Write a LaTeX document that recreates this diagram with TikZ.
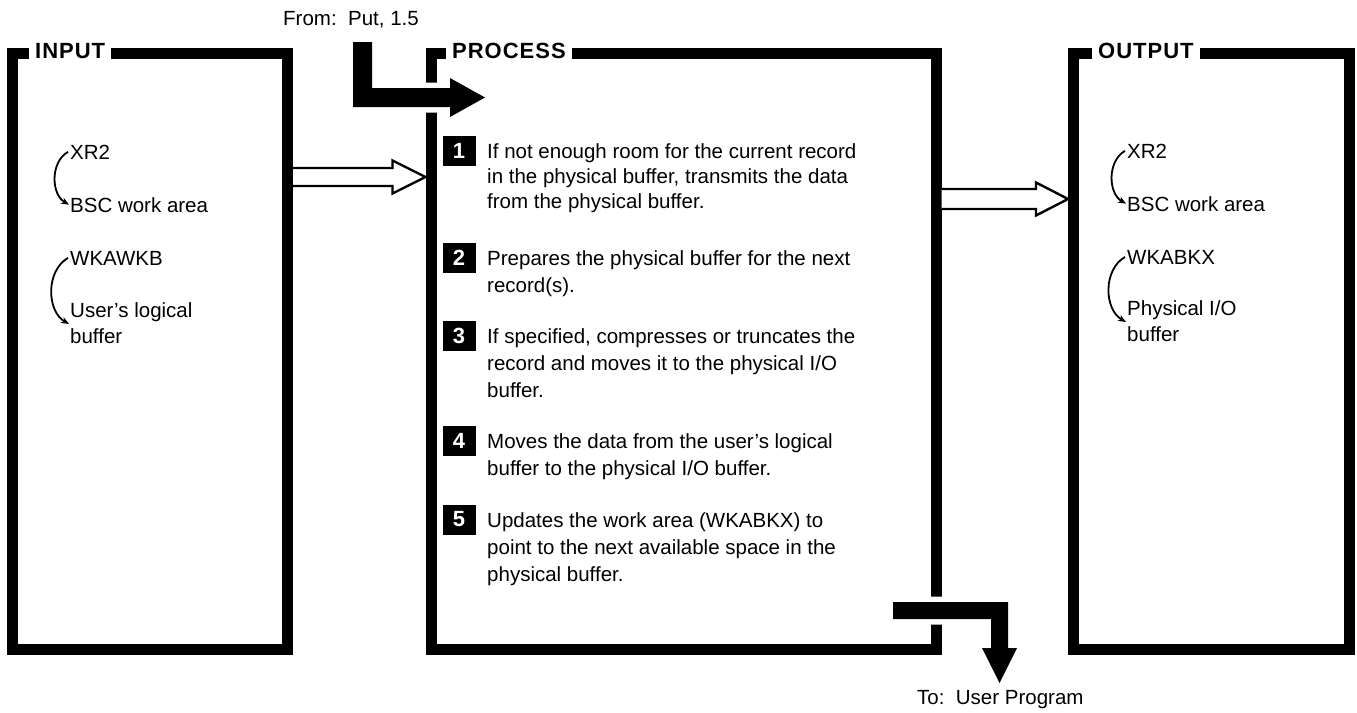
\documentclass[tikz,border=0pt]{standalone}
\usepackage{fontspec}
\setmainfont{Liberation Sans}
\newfontfamily\headfont[LetterSpace=4.5]{Liberation Sans}
\usetikzlibrary{arrows.meta,calc}
% left-aligned block of lines whose baseline is the first line's baseline
\newcommand\linesblock[2][27pt]{\vtop{\baselineskip=#1\relax\lineskiplimit=-20pt\halign{##\hfil\cr#2\crcr}}}
\begin{document}
\begin{tikzpicture}[x=1pt,y=-1pt,
  txt/.style={font=\fontsize{20.5}{27}\selectfont, inner sep=0pt, anchor=base west},
  panel/.style={draw, line width=11pt, inner sep=0pt, minimum height=596pt},
  title/.style={font=\headfont\bfseries\fontsize{22}{26}\selectfont, fill=white,
                inner xsep=6pt, inner ysep=2.5pt, anchor=base west},
  numbox/.style={fill=black, text=white, font=\bfseries\fontsize{22}{26}\selectfont,
                 minimum width=33pt, minimum height=30pt, inner sep=0pt},
  hollow/.style={draw, fill=white, line width=2.4pt, line join=miter},
  heavy/.style={fill=black, preaction={draw=white, line width=11pt, line join=round}},
  curv/.style={line width=1.8pt, -{Stealth[length=8pt,width=6.5pt]}}
]
\useasboundingbox (0,0) rectangle (1357,712);

% the three panels
\node[panel, minimum width=275pt]   (input)   at (150,351) {};
\node[panel, minimum width=505pt]   (process) at (683.5,351) {};
\node[panel, minimum width=275.5pt] (output)  at (1211.25,351) {};

\node[title] (tin)   at (29,58)   {INPUT};
\node[title] (tproc) at (446,58)  {PROCESS};
\node[title] (tout)  at (1092,58) {OUTPUT};

% hollow arrows between the panels
\coordinate (ha) at (input.east |- 0,177);
\coordinate (hb) at (process.west |- 0,177);
\draw[hollow] ($(ha)+(0,-9)$) -- ($(hb)+(-33,-9)$) -- ($(hb)+(-33,-16.5)$) -- (hb)
  -- ($(hb)+(-33,16.5)$) -- ($(hb)+(-33,9)$) -- ($(ha)+(0,9)$);
\coordinate (hc) at (process.east |- 0,199);
\coordinate (hd) at (output.west |- 0,199);
\draw[hollow] ($(hc)+(0,-10)$) -- ($(hd)+(-32,-10)$) -- ($(hd)+(-32,-16.5)$) -- (hd)
  -- ($(hd)+(-32,16.5)$) -- ($(hd)+(-32,10)$) -- ($(hc)+(0,10)$);

% entry and exit labels with heavy arrows
\node[txt] (fromlab) at (283,25) {From:\ \ Put, 1.5};
\node[txt] (tolab)   at (917,704) {To:\ \ User Program};

\coordinate (fromtop) at (362.5,42);
\coordinate (fromtip) at (485,97.5);
\fill[heavy] ($(fromtop)+(-9.5,0)$) -- ($(fromtop)+(9.5,0)$) |- ($(fromtip)+(-35,-9.5)$)
  -- ($(fromtip)+(-35,-19.5)$) -- (fromtip) -- ($(fromtip)+(-35,19.5)$)
  -- ($(fromtip)+(-35,9.5)$) -- ($(fromtop |- fromtip)+(-9.5,9.5)$) -- cycle;

\coordinate (totail) at (893,610.5);
\coordinate (totip)  at (999.5,683);
\fill[heavy] ($(totail)+(0,-8.5)$) -- ($(totip |- totail)+(8.5,-8.5)$)
  -- ($(totip)+(8.5,-35)$) -- ($(totip)+(17.5,-35)$) -- (totip)
  -- ($(totip)+(-17.5,-35)$) -- ($(totip)+(-8.5,-35)$) |- ($(totail)+(0,8.5)$) -- cycle;

% input panel contents
\node[txt] (xr2l)  at (70,159) {XR2};
\node[txt] (bscl)  at (70,212) {BSC work area};
\node[txt] (wkal)  at (70,265) {WKAWKB};
\node[txt] (ulog)  at (70,317) {\linesblock[26pt]{User’s logical\cr buffer}};
\draw[curv] ([xshift=-2pt]xr2l.west) to[out=210,in=150] ([xshift=-1pt]bscl.west);
\draw[curv] ([xshift=-2pt]wkal.west) to[out=210,in=150] ([xshift=-1pt,yshift=-7pt]ulog.base west);

% output panel contents
\node[txt] (xr2r)  at (1127,158) {XR2};
\node[txt] (bscr)  at (1127,211) {BSC work area};
\node[txt] (wkar)  at (1127,264) {WKABKX};
\node[txt] (phys)  at (1127,315) {\linesblock[26pt]{Physical I/O\cr buffer}};
\draw[curv] ([xshift=-2pt]xr2r.west) to[out=210,in=150] ([xshift=-1pt]bscr.west);
\draw[curv] ([xshift=-2pt]wkar.west) to[out=210,in=150] ([xshift=-1pt,yshift=-7pt]phys.base west);

% process steps
\node[numbox] (n1) at (459,150.5) {1};
\node[txt] (s1) at (487,158) {\linesblock[25pt]{If not enough room for the current record\cr
  in the physical buffer, transmits the data\cr from the physical buffer.}};
\node[numbox] (n2) at (459,257.5) {2};
\node[txt] (s2) at (487,265) {\linesblock{Prepares the physical buffer for the next\cr record(s).}};
\node[numbox] (n3) at (459,335.5) {3};
\node[txt] (s3) at (487,343) {\linesblock{If specified, compresses or truncates the\cr
  record and moves it to the physical I/O\cr buffer.}};
\node[numbox] (n4) at (459,440.5) {4};
\node[txt] (s4) at (487,448) {\linesblock{Moves the data from the user’s logical\cr
  buffer to the physical I/O buffer.}};
\node[numbox] (n5) at (459,519.5) {5};
\node[txt] (s5) at (487,527) {\linesblock{Updates the work area (WKABKX) to\cr
  point to the next available space in the\cr physical buffer.}};
\end{tikzpicture}
\end{document}
